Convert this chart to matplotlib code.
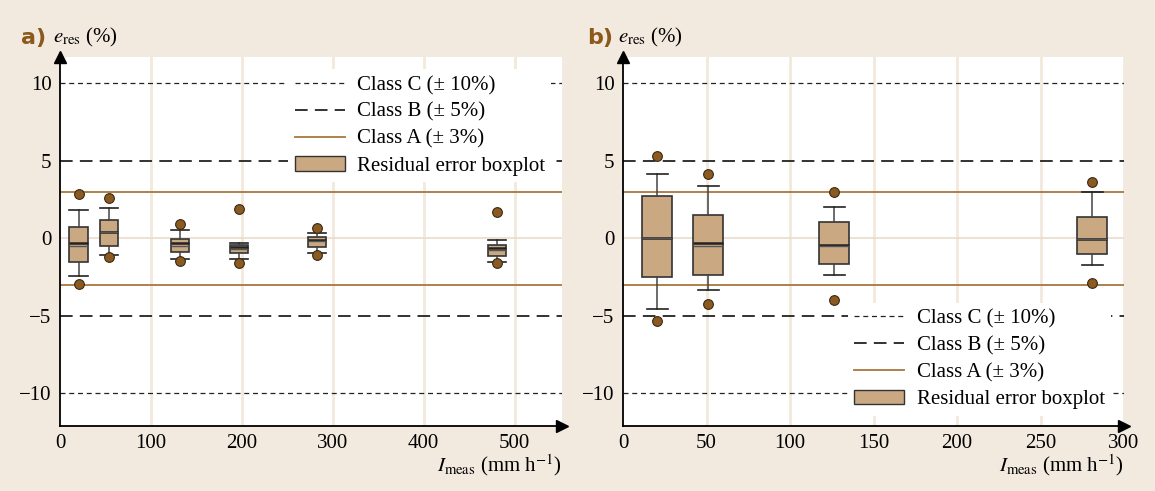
import matplotlib.pyplot as plt
from matplotlib.patches import Patch
from matplotlib.lines import Line2D

plt.rcParams['font.family'] = ['Liberation Serif', 'DejaVu Serif']
plt.rcParams['mathtext.fontset'] = 'stix'

# panel a) data
pos_a = [20.5, 54, 132, 197, 283, 481]
whislo_a = [-2.45, -1.07, -1.30, -1.30, -0.96, -1.51]
q1_a = [-1.54, -0.51, -0.90, -0.96, -0.58, -1.11]
med_a = [-0.32, 0.40, -0.32, -0.53, -0.09, -0.62]
mean_a = [-0.51, 0.40, -0.49, -0.68, -0.17, -0.72]
q3_a = [0.75, 1.17, -0.04, -0.45, 0.10, -0.40]
whishi_a = [1.83, 1.98, 0.51, -0.28, 0.36, -0.09]
fliers_a = [[2.86, -2.96], [2.60, -1.17], [0.90, -1.43], [1.88, -1.56], [0.68, -1.09], [1.73, -1.60]]

# panel b) data
pos_b = [20.5, 51, 126.5, 281]
whislo_b = [-4.55, -3.30, -2.33, -1.69]
q1_b = [-2.48, -2.33, -1.67, -0.98]
med_b = [0.0, -0.30, -0.40, -0.04]
mean_b = [0.0, -0.47, -0.50, -0.04]
q3_b = [2.76, 1.50, 1.07, 1.35]
whishi_b = [4.17, 3.40, 2.00, 3.00]
fliers_b = [[5.30, -5.36], [4.15, -4.20], [2.97, -4.00], [3.63, -2.90]]

classes = ['Class C (± 10%)', 'Class B (± 5%)', 'Class A (± 3%)']
limits = [10, 5, 3]

bg = '#f2eadf'
grid_c = '#f2e9dc'
tan = '#c9a882'
brown = '#a8773e'
dot = '#8b5a22'


def stats(whislo, q1, med, mean, q3, whishi, fliers):
    out = []
    for i in range(len(med)):
        out.append(dict(whislo=whislo[i], q1=q1[i], med=med[i], mean=mean[i],
                        q3=q3[i], whishi=whishi[i], fliers=fliers[i]))
    return out


fig = plt.figure(figsize=(11.55, 4.91), dpi=100, facecolor=bg)
ax_a = fig.add_axes([0.0519, 0.1324, 0.4346, 0.7515])
ax_b = fig.add_axes([0.5394, 0.1324, 0.4338, 0.7515])

panels = [
    (ax_a, 'a)', stats(whislo_a, q1_a, med_a, mean_a, q3_a, whishi_a, fliers_a), pos_a, 20, 20,
     [0, 100, 200, 300, 400, 500], (0, 552), 'upper right', (1.0, 0.995), -0.078, -0.014),
    (ax_b, 'b)', stats(whislo_b, q1_b, med_b, mean_b, q3_b, whishi_b, fliers_b), pos_b, 18, 12.5,
     [0, 50, 100, 150, 200, 250, 300], (0, 300), 'lower right', (0.995, 0.0), -0.072, -0.01),
]

for ax, tag, st, pos, w, capw, xt, xl, loc, anchor, tx, ex in panels:
    ax.set_facecolor('white')
    ax.set_xlim(*xl)
    ax.set_ylim(-12.1, 11.7)
    for x in xt[1:]:
        ax.axvline(x, color=grid_c, lw=2, zorder=0)
    ax.axhline(0, color='#eadccb', lw=1.2, zorder=0)

    for v in [10, -10]:
        ax.axhline(v, color='#222222', lw=0.9, ls=(0, (4, 3)), zorder=1)
    for v in [5, -5]:
        ax.axhline(v, color='#222222', lw=1.3, ls=(0, (7, 4)), zorder=1)
    for v in [3, -3]:
        ax.axhline(v, color=brown, lw=1.3, zorder=1)

    ax.bxp(st, positions=pos, widths=w, showmeans=True, meanline=True, patch_artist=True,
           capwidths=[capw] * len(pos), manage_ticks=False,
           boxprops=dict(facecolor=tan, edgecolor='#333333', lw=1.2),
           whiskerprops=dict(color='#444444', lw=1.1),
           capprops=dict(color='#222222', lw=1.2),
           medianprops=dict(color='#222222', lw=1.8),
           meanprops=dict(color='#555555', lw=1.0, ls='-'),
           flierprops=dict(marker='o', markerfacecolor=dot, markeredgecolor='#3a2810',
                           markersize=7, markeredgewidth=0.8))

    ax.set_xticks(xt)
    ax.set_yticks([-10, -5, 0, 5, 10])
    ax.tick_params(length=0, labelsize=15, pad=6)
    for s in ['top', 'right']:
        ax.spines[s].set_visible(False)
    for s in ['left', 'bottom']:
        ax.spines[s].set_linewidth(1.3)
    ax.plot(0, 1, marker='^', color='black', markersize=8, transform=ax.transAxes, clip_on=False)
    ax.plot(1, 0, marker='>', color='black', markersize=8, transform=ax.transAxes, clip_on=False)

    ax.text(tx, 1.052, tag, transform=ax.transAxes, fontsize=16, fontweight='bold',
            color='#8b5a1b', family='DejaVu Sans', va='center')
    ax.text(ex, 1.052, r'$e_{\mathrm{res}}$ (%)', transform=ax.transAxes, fontsize=15,
            va='center')
    ax.text(1.0, -0.105, r'$I_{\mathrm{meas}}$ (mm h$^{-1}$)', transform=ax.transAxes,
            fontsize=15, ha='right', va='center')

    handles = [Line2D([], [], color='#222222', lw=0.9, ls=(0, (4, 3))),
               Line2D([], [], color='#222222', lw=1.3, ls=(0, (7, 4))),
               Line2D([], [], color=brown, lw=1.3),
               Patch(facecolor=tan, edgecolor='#333333')]
    leg = ax.legend(handles, classes + ['Residual error boxplot'], loc=loc,
                    bbox_to_anchor=anchor, fontsize=15, frameon=True, fancybox=False,
                    framealpha=1, handlelength=2.4, handletextpad=0.6, labelspacing=0.35,
                    borderpad=0.3)
    leg.get_frame().set_edgecolor('none')
    leg.set_zorder(5)

fig.savefig('out.png', dpi=100, facecolor=bg)
